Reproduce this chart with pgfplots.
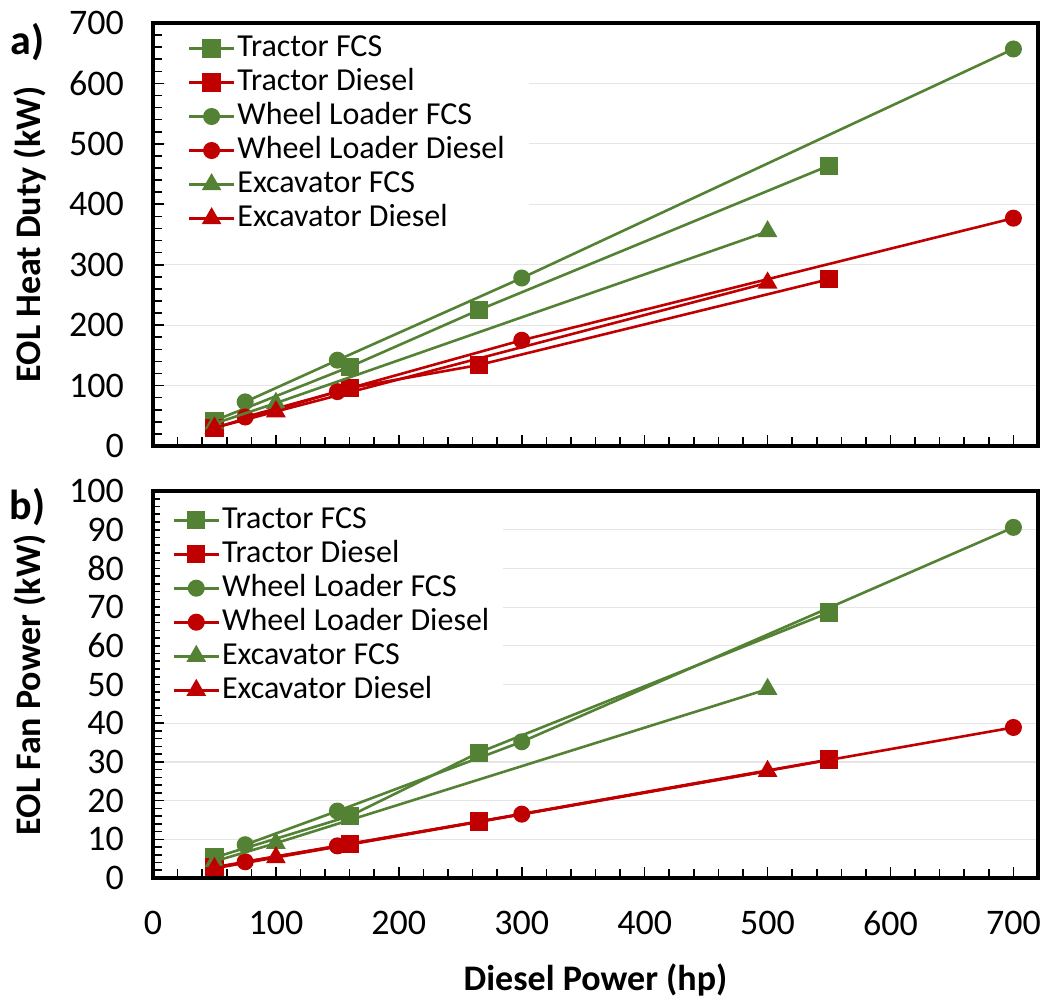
\documentclass[border=0pt]{standalone}
\usepackage{fontspec}
\setmainfont{Carlito}
\usepackage{pgfplots}
\pgfplotsset{compat=1.18}
\definecolor{fcsgreen}{HTML}{548235}
\definecolor{dieselred}{HTML}{C00000}
\pgfplotsset{
  common/.style={
    scale only axis, width=442.5pt, xmin=0, xmax=720,
    clip mode=individual,
    axis line style={line width=1.6pt},
    tick align=inside, tick pos=left,
    xtick={0,100,...,700}, minor x tick num=4, minor y tick num=4,
    major tick length=5.5pt, minor tick length=4.5pt,
    every tick/.style={black, line width=0.8pt},
    ymajorgrids, major grid style={color=black!10, line width=0.6pt},
    tick label style={font=\fontsize{18}{18}\selectfont},
    yticklabel shift=11pt,
    /pgf/number format/assume math mode=true,
    label style={font=\bfseries\fontsize{18}{18}\selectfont},
    ylabel style={at={(axis description cs:-0.139,0.5)}, anchor=center},
    legend cell align=left,
    legend image code/.code={\draw[mark repeat=2,mark phase=2] plot coordinates {(0pt,0pt) (11.25pt,0pt) (22.5pt,0pt)};},
  },
  trfcs/.style={color=fcsgreen, line width=1.3pt, mark=square*, mark size=3.9pt, mark options={solid, fill=fcsgreen}},
  trd/.style={color=dieselred, line width=1.3pt, mark=square*, mark size=3.9pt, mark options={solid, fill=dieselred}},
  wlfcs/.style={color=fcsgreen, line width=1.3pt, mark=*, mark size=3.6pt, mark options={solid, fill=fcsgreen}},
  wld/.style={color=dieselred, line width=1.3pt, mark=*, mark size=3.6pt, mark options={solid, fill=dieselred}},
  exfcs/.style={color=fcsgreen, line width=1.3pt, mark=triangle*, mark size=4.4pt, mark options={solid, fill=fcsgreen}},
  exd/.style={color=dieselred, line width=1.3pt, mark=triangle*, mark size=4.4pt, mark options={solid, fill=dieselred}},
}
\begin{document}
\begin{tikzpicture}
\useasboundingbox (-76.5pt,-61.5pt) rectangle (447pt,439pt);
% top panel
\begin{axis}[common, at={(0pt,216pt)}, anchor=south west,
  height=211.5pt, ymin=0, ymax=700, ytick={0,100,...,700},
  xticklabels={},
  ylabel={EOL Heat Duty (kW)},
  legend style={at={(axis description cs:0.014,0.995)}, anchor=north west, draw=none, fill=white,
    font=\fontsize{16}{16}\selectfont, inner xsep=11pt, inner ysep=3pt, row sep=0pt,
    nodes={inner sep=1pt, text height=11.5pt, text depth=3.5pt}},
]
\addplot[trfcs] coordinates {(50,42) (160,131) (265,225) (550,464)};
\addlegendentry{Tractor FCS}
\addplot[trd] coordinates {(50,30) (160,96) (265,134) (550,276)};
\addlegendentry{Tractor Diesel}
\addplot[wlfcs] coordinates {(75,73) (150,142) (300,278) (700,657)};
\addlegendentry{Wheel Loader FCS}
\addplot[wld] coordinates {(75,48) (150,90) (300,175) (700,377)};
\addlegendentry{Wheel Loader Diesel}
\addplot[exfcs] coordinates {(50,37) (100,71) (500,355)};
\addlegendentry{Excavator FCS}
\addplot[exd] coordinates {(50,30) (100,57) (500,270)};
\addlegendentry{Excavator Diesel}
\node[font=\bfseries\fontsize{21}{21}\selectfont] at (axis description cs:-0.142,0.955) {a)};
\end{axis}
% bottom panel
\begin{axis}[common, at={(0pt,0pt)}, anchor=south west,
  height=193.5pt, ymin=0, ymax=100, ytick={0,10,...,100},
  xticklabel shift=13pt,
  xlabel={Diesel Power (hp)},
  xlabel style={at={(axis description cs:0.5,0)}, yshift=-51pt, anchor=center},
  ylabel={EOL Fan Power (kW)},
  legend style={at={(axis description cs:0.008,0.985)}, anchor=north west, draw=none, fill=white,
    font=\fontsize{16}{16}\selectfont, inner xsep=6pt, inner ysep=3pt, row sep=0pt,
    nodes={inner sep=1pt, text height=11.5pt, text depth=3.5pt}},
]
\addplot[trfcs] coordinates {(50,5.3) (160,16) (265,32.4) (550,68.6)};
\addlegendentry{Tractor FCS}
\addplot[trd] coordinates {(50,2.8) (160,8.8) (265,14.6) (550,30.6)};
\addlegendentry{Tractor Diesel}
\addplot[wlfcs] coordinates {(75,8.6) (150,17.3) (300,35.2) (700,90.6)};
\addlegendentry{Wheel Loader FCS}
\addplot[wld] coordinates {(75,4.2) (150,8.3) (300,16.5) (700,38.9)};
\addlegendentry{Wheel Loader Diesel}
\addplot[exfcs] coordinates {(50,4.3) (100,9.0) (500,48.8)};
\addlegendentry{Excavator FCS}
\addplot[exd] coordinates {(50,2.5) (100,5.3) (500,27.6)};
\addlegendentry{Excavator Diesel}
\node[font=\bfseries\fontsize{21}{21}\selectfont] at (axis description cs:-0.142,0.959) {b)};
\end{axis}
\end{tikzpicture}
\end{document}
